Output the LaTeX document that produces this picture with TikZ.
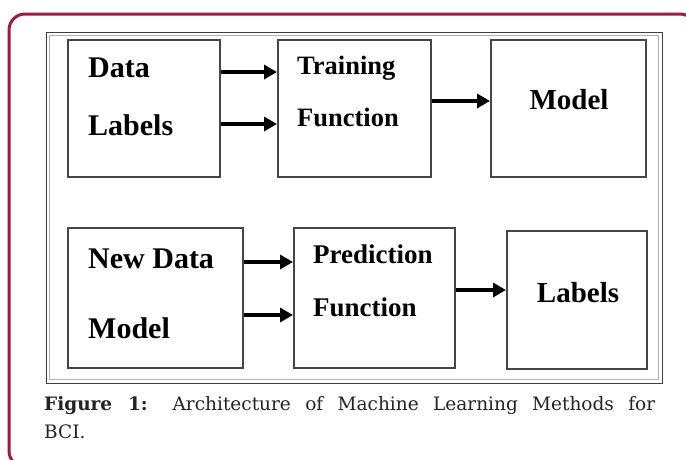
\documentclass[tikz,border=0pt]{standalone}
\usepackage{fontspec}
\setmainfont{Liberation Serif}
\newfontfamily\capfont{DejaVu Serif}
\usetikzlibrary{arrows.meta}
\definecolor{framered}{RGB}{158,27,66}
\definecolor{boxgray}{RGB}{70,70,70}
\definecolor{captxt}{RGB}{35,35,35}
\begin{document}
\begin{tikzpicture}[x=1pt,y=-1pt,
  box/.style={draw=boxgray,line width=2pt,fill=white,minimum width=#1,inner sep=0pt},
  lbl/.style={anchor=base west,inner sep=0pt,font=\bfseries,text=black},
  arr/.style={line width=4pt,-{Triangle[length=13pt,width=14pt]}},
]
\useasboundingbox (0,0) rectangle (686,459);
\fill[white] (0,0) rectangle (686,459);
\begin{scope}
\clip (0,0) rectangle (686,459);
\draw[framered,line width=3pt,rounded corners=16pt] (9,14) rectangle (696,467);
\end{scope}
% image border
\draw[black!75,line width=1pt] (46,32) rectangle (662,383);
\draw[black!30,line width=0.8pt] (49.5,35.5) rectangle (658.5,379.5);
% boxes row 1
\node[box=152pt,minimum height=137pt] (b1) at (144,108.5) {};
\node[box=153pt,minimum height=137pt] (b2) at (354.5,108.5) {};
\node[box=155pt,minimum height=137pt] (b3) at (568.5,108.5) {};
% boxes row 2
\node[box=175pt,minimum height=140pt] (b4) at (155.5,298) {};
\node[box=161pt,minimum height=140pt] (b5) at (374.5,298) {};
\node[box=140pt,minimum height=138pt] (b6) at (577,300) {};
% arrow levels
\coordinate (y1) at (0,72);
\coordinate (y2) at (0,124);
\coordinate (y3) at (0,101);
\coordinate (y4) at (0,262);
\coordinate (y5) at (0,315);
\coordinate (y6) at (0,290);
\draw[arr] (b1.east |- y1) -- (b2.west |- y1);
\draw[arr] (b1.east |- y2) -- (b2.west |- y2);
\draw[arr] (b2.east |- y3) -- (b3.west |- y3);
\draw[arr] (b4.east |- y4) -- (b5.west |- y4);
\draw[arr] (b4.east |- y5) -- (b5.west |- y5);
\draw[arr] (b5.east |- y6) -- (b6.west |- y6);
% labels
\node[lbl,font=\bfseries\fontsize{30}{30}\selectfont] (t1) at (88,77) {Data};
\node[lbl,font=\bfseries\fontsize{30}{30}\selectfont] (t2) at (88,135) {Labels};
\node[lbl,font=\bfseries\fontsize{26.5}{26.5}\selectfont] (t3) at (297,74) {Training};
\node[lbl,font=\bfseries\fontsize{26.5}{26.5}\selectfont] (t4) at (297,126) {Function};
\node[anchor=base,inner sep=0pt,font=\bfseries\fontsize{29}{29}\selectfont] (t5) at (569,109) {Model};
\node[lbl,font=\bfseries\fontsize{30}{30}\selectfont] (t6) at (88,268) {New Data};
\node[lbl,font=\bfseries\fontsize{30}{30}\selectfont] (t7) at (88,338) {Model};
\node[lbl,font=\bfseries\fontsize{27}{27}\selectfont] (t8) at (313,263) {Prediction};
\node[lbl,font=\bfseries\fontsize{27}{27}\selectfont] (t9) at (313,316) {Function};
\node[anchor=base,inner sep=0pt,font=\bfseries\fontsize{29}{29}\selectfont] (t10) at (578,302) {Labels};
% caption
\node[anchor=base west,inner sep=0pt,text=captxt,font=\capfont\fontsize{18.5}{18.5}\selectfont] (c1) at (44,410)
  {\makebox[611pt][s]{\textbf{Figure 1:} Architecture of Machine Learning Methods for}};
\node[anchor=base west,inner sep=0pt,text=captxt,font=\capfont\fontsize{18.5}{18.5}\selectfont] (c2) at (44,438) {BCI.};
\end{tikzpicture}
\end{document}
